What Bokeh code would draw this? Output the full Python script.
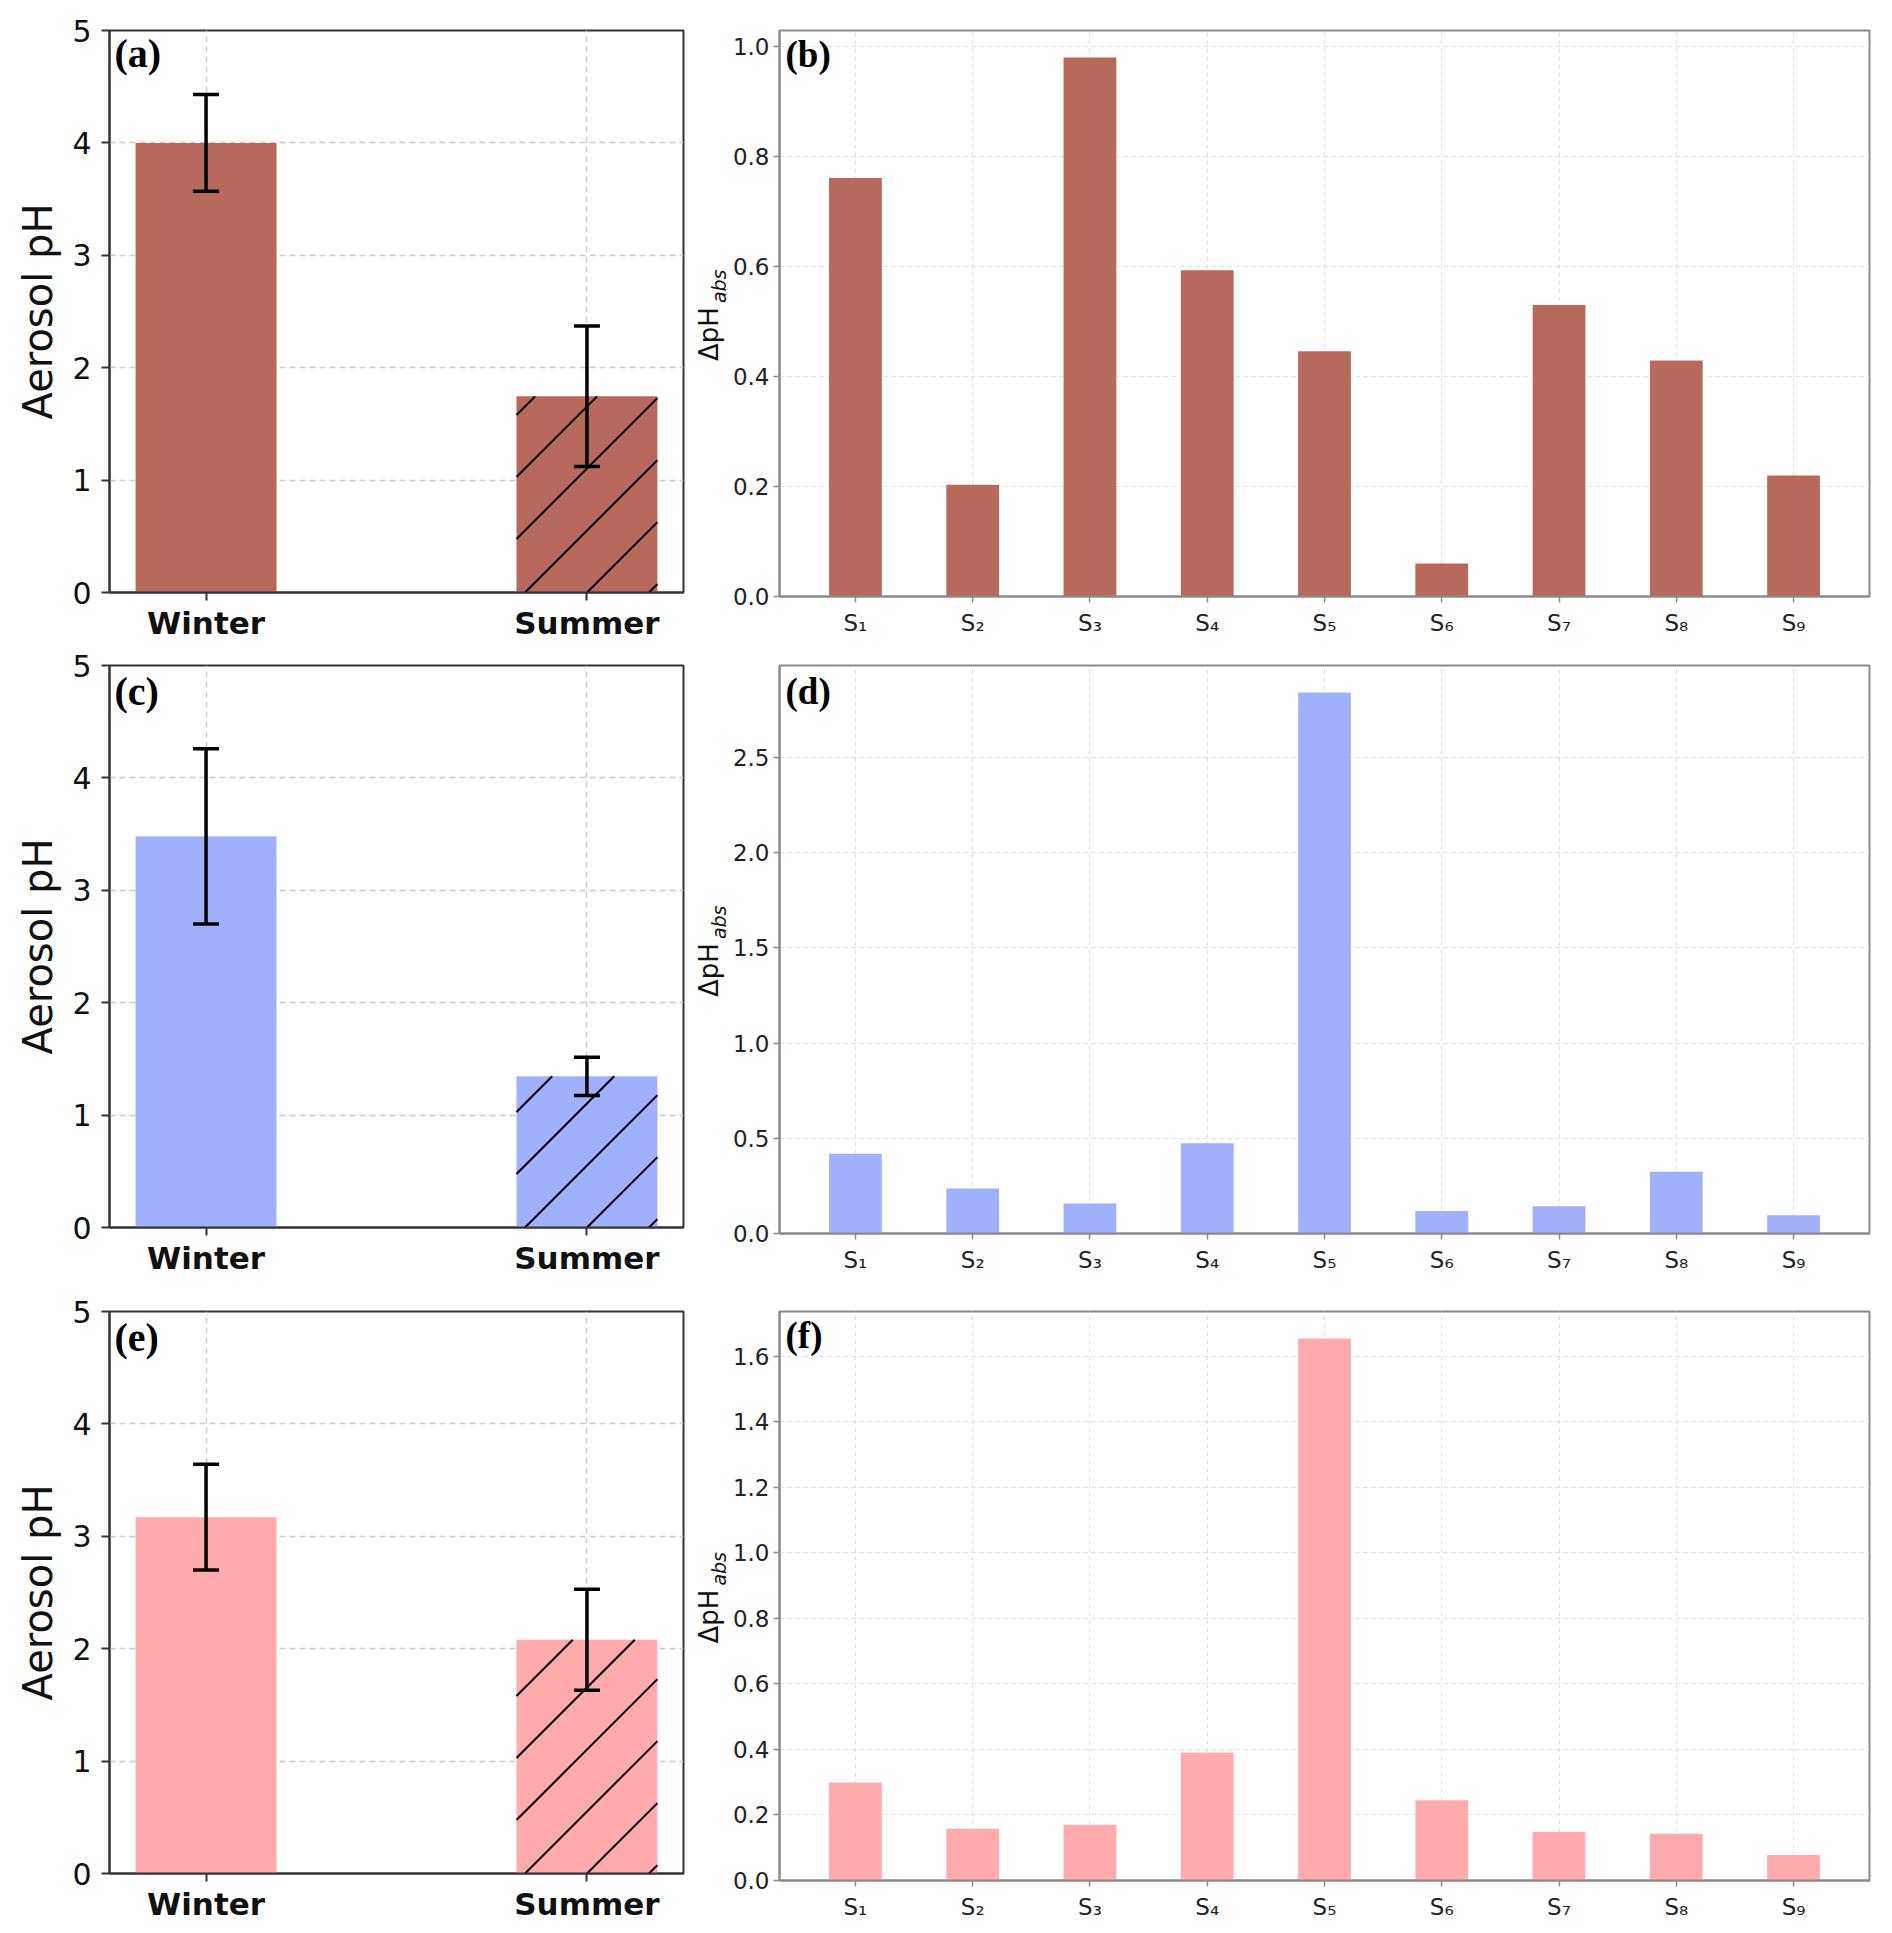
import math
from bokeh.plotting import figure
from bokeh.layouts import column, row
from bokeh.models import (ColumnDataSource, Whisker, TeeHead, Label, FixedTicker,
                          PrintfTickFormatter, Range1d, LinearAxis)
from bokeh.embed import file_html
from bokeh.resources import INLINE

# data
seasons = ["Winter", "Summer"]
hatched = [False, True]
sites = ["S₁", "S₂", "S₃", "S₄", "S₅", "S₆", "S₇", "S₈", "S₉"]

ph_a = [4.00, 1.745]
err_a = [0.43, 0.625]
ph_c = [3.48, 1.345]
err_c = [0.78, 0.17]
ph_e = [3.17, 2.08]
err_e = [0.47, 0.45]

dph_b = [0.761, 0.203, 0.980, 0.593, 0.446, 0.060, 0.530, 0.429, 0.220]
dph_d = [0.419, 0.237, 0.158, 0.474, 2.842, 0.118, 0.143, 0.325, 0.096]
dph_f = [0.299, 0.158, 0.170, 0.391, 1.654, 0.245, 0.148, 0.143, 0.078]

ticks_ph = [0, 1, 2, 3, 4, 5]
ticks_b = [0.0, 0.2, 0.4, 0.6, 0.8, 1.0]
ticks_d = [0.0, 0.5, 1.0, 1.5, 2.0, 2.5]
ticks_f = [0.0, 0.2, 0.4, 0.6, 0.8, 1.0, 1.2, 1.4, 1.6]

BRICK = "#B7695C"
BLUE = "#A0B0FC"
PINK = "#FFABAE"
NB = "\u00a0"

FW_L, FH_L = 574, 562


def hatch_lines(x0, x1, top, xstart, kx, ky, step=62, phase=43.5):
    # 45 degree "/" lines clipped to the bar, spaced in screen pixels
    out = ([], [], [], [])
    xa, xb = (x0 - xstart) * kx, (x1 - xstart) * kx
    ya, yb = 0.0, top * ky
    c = phase + step * math.floor((xa - yb - phase) / step)
    while c < xb - ya:
        lo, hi = max(ya, xa - c), min(yb, xb - c)
        if hi > lo:
            out[0].append((lo + c) / kx + xstart)
            out[1].append(lo / ky)
            out[2].append((hi + c) / kx + xstart)
            out[3].append(hi / ky)
        c += step
    return out


def season_panel(vals, errs, color, tag, top, bottom, tag_dy):
    w = 0.37
    x = list(range(len(seasons)))
    x_lo = -w / 2 - 0.05 * (1 + w)
    x_hi = 1 + w / 2 + 0.05 * (1 + w)
    src = ColumnDataSource(dict(
        x=x, top=vals,
        upper=[v + e for v, e in zip(vals, errs)],
        lower=[v - e for v, e in zip(vals, errs)],
    ))
    p = figure(frame_width=FW_L, frame_height=FH_L,
               min_border_left=109, min_border_right=7,
               min_border_top=top, min_border_bottom=bottom,
               x_range=Range1d(x_lo, x_hi), y_range=Range1d(0, 5),
               output_backend="svg", toolbar_location=None)
    p.vbar(x="x", top="top", width=w, source=src, fill_color=color, line_color=None)

    kx = FW_L / (x_hi - x_lo)
    ky = FH_L / 5
    for xi, v, h in zip(x, vals, hatched):
        if h:
            sx0, sy0, sx1, sy1 = hatch_lines(xi - w / 2, xi + w / 2, v, x_lo, kx, ky)
            p.segment(x0=sx0, y0=sy0, x1=sx1, y1=sy1, line_color="black", line_width=2)

    p.add_layout(Whisker(source=src, base="x", upper="upper", lower="lower",
                         line_width=3.5, line_color="black", level="overlay",
                         upper_head=TeeHead(size=26, line_width=3.5, line_color="black"),
                         lower_head=TeeHead(size=26, line_width=3.5, line_color="black")))

    p.xaxis.ticker = FixedTicker(ticks=x)
    p.xaxis.major_label_overrides = {i: s for i, s in enumerate(seasons)}
    p.xaxis.major_label_text_font_style = "bold"
    p.xaxis.major_label_text_font_size = "31px"
    p.xaxis.major_label_standoff = 4
    p.yaxis.ticker = FixedTicker(ticks=ticks_ph)
    p.yaxis.major_label_text_font_size = "30px"
    p.yaxis.major_label_standoff = 10
    p.yaxis.axis_label = "Aerosol pH"
    p.yaxis.axis_label_text_font_size = "40px"
    p.yaxis.axis_label_text_font_style = "normal"
    p.yaxis.axis_label_text_color = "#111111"
    p.yaxis.axis_label_standoff = 8
    for ax in (p.xaxis, p.yaxis):
        ax.major_label_text_font = "DejaVu Sans"
        ax.major_label_text_color = "#111111"
        ax.axis_label_text_font = "DejaVu Sans"
        ax.axis_line_color = "#333333"
        ax.axis_line_width = 2
        ax.major_tick_line_color = "#333333"
        ax.major_tick_line_width = 2
        ax.major_tick_out = 8
        ax.major_tick_in = 0
        ax.minor_tick_line_color = None
    p.grid.grid_line_color = "#cccccc"
    p.grid.grid_line_dash = "6 4"
    p.grid.grid_line_width = 1.5
    p.outline_line_color = "#333333"
    p.outline_line_width = 2
    p.add_layout(Label(x=5, y=FH_L - tag_dy, x_units="screen", y_units="screen", text=tag,
                       text_font="Liberation Serif", text_font_style="bold",
                       text_font_size="40px", text_color="black",
                       text_baseline="alphabetic"))
    return p


def site_panel(vals, ticks, color, tag, top, fh, bottom, tag_dy):
    w = 0.45
    x = list(range(len(sites)))
    src = ColumnDataSource(dict(x=x, top=vals))
    n = len(sites) - 1
    pad = 0.05 * (n + w)
    p = figure(frame_width=1090, frame_height=fh,
               min_border_left=87, min_border_right=10,
               min_border_top=top, min_border_bottom=bottom,
               x_range=Range1d(-w / 2 - pad, n + w / 2 + pad),
               y_range=Range1d(0, max(vals) * 1.05),
               output_backend="svg", toolbar_location=None)
    p.vbar(x="x", top="top", width=w, source=src, fill_color=color, line_color=None)

    p.xaxis.ticker = FixedTicker(ticks=x)
    p.xaxis.major_label_overrides = {i: s for i, s in enumerate(sites)}
    p.xaxis.major_label_standoff = 7
    p.yaxis.ticker = FixedTicker(ticks=ticks)
    p.yaxis.formatter = PrintfTickFormatter(format="%.1f")
    p.yaxis.major_label_standoff = 4
    for ax in (p.xaxis, p.yaxis):
        ax.major_label_text_font = "DejaVu Sans"
        ax.major_label_text_font_size = "23px"
        ax.major_label_text_color = "#222222"
        ax.axis_line_color = "#8a8a8a"
        ax.axis_line_width = 2
        ax.major_tick_line_color = "#8a8a8a"
        ax.major_tick_line_width = 1.5
        ax.major_tick_out = 6
        ax.major_tick_in = 0
        ax.minor_tick_line_color = None

    # y label: "abs" subscript on the tick axis, "ΔpH" on an outer axis pulled inward
    p.yaxis.axis_label = NB * 9 + "abs"
    p.yaxis.axis_label_text_font = "DejaVu Sans"
    p.yaxis.axis_label_text_font_style = "italic"
    p.yaxis.axis_label_text_font_size = "19px"
    p.yaxis.axis_label_text_color = "#111111"
    p.yaxis.axis_label_standoff = 0
    outer = LinearAxis(ticker=FixedTicker(ticks=[]), axis_label="ΔpH" + NB * 5,
                       axis_label_standoff=-19, axis_line_color=None,
                       major_tick_line_color=None, minor_tick_line_color=None,
                       axis_label_text_font="DejaVu Sans",
                       axis_label_text_font_style="normal",
                       axis_label_text_font_size="26px",
                       axis_label_text_color="#111111")
    p.add_layout(outer, "left")

    p.grid.grid_line_color = "#dddddd"
    p.grid.grid_line_dash = "4 4"
    p.grid.grid_line_width = 1
    p.outline_line_color = "#8a8a8a"
    p.outline_line_width = 2
    p.add_layout(Label(x=6, y=fh - tag_dy, x_units="screen", y_units="screen", text=tag,
                       text_font="Liberation Serif", text_font_style="bold",
                       text_font_size="37px", text_color="black",
                       text_baseline="alphabetic"))
    return p


pa = season_panel(ph_a, err_a, BRICK, "(a)", 30, 56, 23)
pb = site_panel(dph_b, ticks_b, BRICK, "(b)", 28, 566, 54, 24)
pc = season_panel(ph_c, err_c, BLUE, "(c)", 16, 62, 26)
pd_ = site_panel(dph_d, ticks_d, BLUE, "(d)", 17, 568, 55, 26)
pe = season_panel(ph_e, err_e, PINK, "(e)", 23, 52, 26)
pf = site_panel(dph_f, ticks_f, PINK, "(f)", 21, 569, 47, 24)

layout = column(row(pa, pb), row(pc, pd_), row(pe, pf))

open("out.html", "w").write(file_html(layout, INLINE))
